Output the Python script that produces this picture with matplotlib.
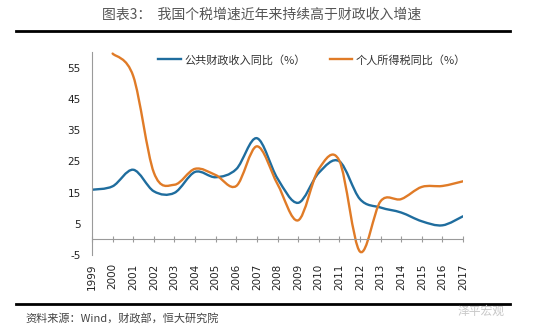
import numpy as np
import matplotlib
matplotlib.use("Agg")
import matplotlib.pyplot as plt
from matplotlib.path import Path
from matplotlib.patches import PathPatch
from matplotlib.lines import Line2D

plt.rcParams['font.family'] = ['Noto Sans CJK SC', 'DejaVu Sans']
plt.rcParams['axes.unicode_minus'] = False

years = list(range(1999, 2018))
fiscal = [15.9, 17.0, 22.3, 15.4, 14.9, 21.6, 19.9, 22.5, 32.4, 19.5,
          11.7, 21.3, 25.0, 12.9, 10.2, 8.6, 5.8, 4.5, 7.4]
# personal income tax has no 1999 value
iit_years = list(range(2000, 2018))
iit = [59.5, 52.3, 21.4, 17.5, 22.6, 20.6, 17.1, 29.8, 17.7,
       6.1, 22.5, 25.2, -3.9, 12.2, 12.9, 16.8, 17.1, 18.6]
yticks = [-5, 5, 15, 25, 35, 45, 55]

blue = "#1f6d9e"
orange = "#e07b27"


def smooth_path(xs, ys):
    # excel-like smoothed line: bezier control points from neighbours
    pts = np.column_stack([xs, ys]).astype(float)
    n = len(pts)
    verts = [pts[0]]
    codes = [Path.MOVETO]
    for i in range(n - 1):
        p0 = pts[max(i - 1, 0)]
        p1 = pts[i]
        p2 = pts[i + 1]
        p3 = pts[min(i + 2, n - 1)]
        c1 = p1 + (p2 - p0) / 6.0
        c2 = p2 - (p3 - p1) / 6.0
        verts += [c1, c2, p2]
        codes += [Path.CURVE4] * 3
    return Path(verts, codes)


fig = plt.figure(figsize=(5.5, 3.35), dpi=100)
ax = fig.add_axes([92 / 550, 80 / 335, 371 / 550, 203 / 335])

for xs, ys, c in [(years, fiscal, blue), (iit_years, iit, orange)]:
    ax.add_patch(PathPatch(smooth_path(xs, ys), facecolor="none",
                           edgecolor=c, lw=1.7, capstyle="round"))

ax.set_xlim(1999, 2017)
ax.set_ylim(-5, 60)
ax.set_yticks(yticks)
ax.set_xticks(years)
ax.set_xticklabels([str(y) for y in years], rotation=90, fontsize=7.5,
                   family="DejaVu Sans", color="#222")
ax.tick_params(axis="x", length=0, pad=6)
ax.tick_params(axis="y", length=0, pad=8, labelsize=7.5, labelcolor="#222")
for lab in ax.get_yticklabels():
    lab.set_family("DejaVu Sans")

for s in ["top", "right", "bottom"]:
    ax.spines[s].set_visible(False)
ax.spines["left"].set_color("#9a9a9a")
ax.spines["left"].set_linewidth(0.8)

# zero line with year tick marks
ax.axhline(0, color="#9a9a9a", lw=0.8)
ax.plot(years, [0] * len(years), ls="none", marker="|", ms=4,
        color="#9a9a9a", mew=0.8, clip_on=False)

handles = [Line2D([], [], color=blue, lw=1.7),
           Line2D([], [], color=orange, lw=1.7)]
fig.legend(handles, ["公共财政收入同比（%）", "个人所得税同比（%）"],
           loc="center", bbox_to_anchor=(312 / 550, 1 - 60 / 335), ncol=2,
           frameon=False, fontsize=8, handlelength=2.0, handletextpad=0.3,
           columnspacing=2.2, labelcolor="#333")

fig.text(262 / 550, 1 - 15 / 335, "图表3：  我国个税增速近年来持续高于财政收入增速",
         ha="center", va="center", fontsize=10, color="#555")
fig.add_artist(Line2D([16 / 550, 510 / 550], [1 - 31 / 335, 1 - 31 / 335],
                      color="black", lw=2))
fig.add_artist(Line2D([16 / 550, 510 / 550], [1 - 304 / 335, 1 - 304 / 335],
                      color="black", lw=2))
fig.text(25 / 550, 1 - 318 / 335, "资料来源：Wind，财政部，恒大研究院",
         ha="left", va="center", fontsize=8, color="#444")
fig.text(505 / 550, 1 - 311 / 335, "泽平宏观", ha="right", va="center",
         fontsize=8.5, color="#c8c8c8")

fig.savefig("out.png", dpi=100)
